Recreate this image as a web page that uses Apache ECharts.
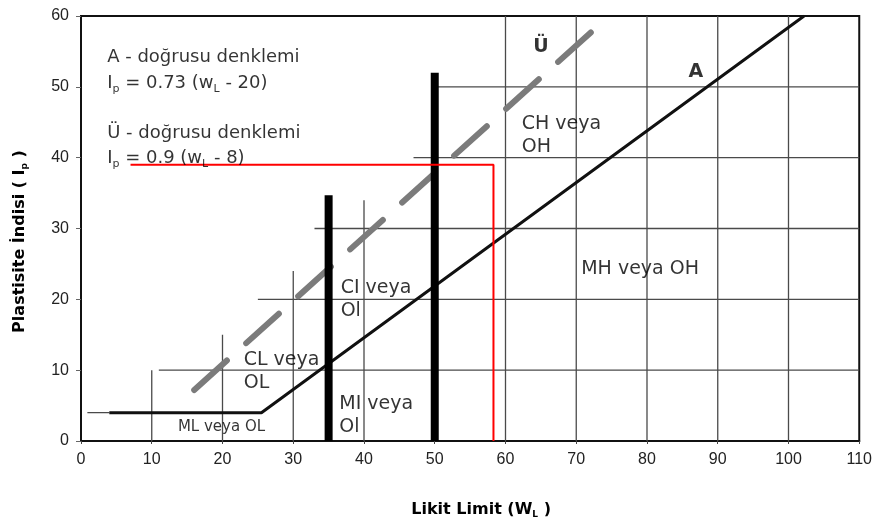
<!DOCTYPE html>
<html>
<head>
<meta charset="utf-8">
<script src="https://cdn.jsdelivr.net/npm/echarts@6/dist/echarts.min.js"></script>
<style>
  html, body { margin: 0; background: #fff; }
  #chart { width: 875px; height: 524px; }
</style>
</head>
<body>
<div id="chart"></div>
<script>
// axis ticks
const xTicks = [0, 10, 20, 30, 40, 50, 60, 70, 80, 90, 100, 110];
const yTicks = [0, 10, 20, 30, 40, 50, 60];

// partial grid lines (segments)
const vGridX = [10, 20, 30, 40, 60, 70, 80, 90, 100];
const vGridTop = [10, 15, 24, 34, 60, 60, 60, 60, 60];
const hGridY = [4, 10, 20, 30, 40, 50];
const hGridFrom = [0.9, 11, 25, 33, 47, 50];
const hGridTo = [4, 110, 110, 110, 110, 110];

// A-line: Ip = 0.73 (wL - 20), with Ip = 4 plateau
const aLineX = [4, 25.5, 102.2];
const aLineY = [4, 4, 60];

// U-line: Ip = 0.9 (wL - 8)
const uLineX = [16, 73.3];
const uLineY = [7.2, 58.8];

// thick boundaries at wL = 35 and 50
const barX = [35, 50];
const barTop = [34.7, 52];

// red read-off line
const redX = [7, 58.3, 58.3];
const redY = [39, 39, 0];

const zip = (xs, ys) => xs.map((x, i) => [x, ys[i]]);

const chart = echarts.init(document.getElementById("chart"));

const txt = "DejaVu Sans";
const ink = "#000";
const rich = {
  n: { fontFamily: txt, fontSize: 18, color: ink, lineHeight: 22 },
  s: { fontFamily: txt, fontSize: 11, color: ink, lineHeight: 12, verticalAlign: "bottom" }
};
const nameRich = {
  b: { fontFamily: txt, fontWeight: "bold", fontSize: 16, color: ink, lineHeight: 18 },
  bs: { fontFamily: txt, fontWeight: "bold", fontSize: 9, color: ink, lineHeight: 10, verticalAlign: "bottom" }
};

function note(x, y, formatter, extra) {
  return {
    value: [x, y],
    label: Object.assign({
      show: true,
      position: [0, 0],
      align: "left",
      verticalAlign: "middle",
      formatter: formatter,
      fontFamily: txt,
      fontSize: 19,
      lineHeight: 23,
      color: ink,
      rich: rich
    }, extra || {})
  };
}

const gridSeries = [];
vGridX.forEach((x, i) => {
  gridSeries.push({
    type: "line", symbol: "none", silent: true, z: 1,
    lineStyle: { color: "#4a4a4a", width: 1.3 },
    data: [[x, 0], [x, vGridTop[i]]]
  });
});
hGridY.forEach((y, i) => {
  gridSeries.push({
    type: "line", symbol: "none", silent: true, z: 1,
    lineStyle: { color: "#4a4a4a", width: 1.3 },
    data: [[hGridFrom[i], y], [hGridTo[i], y]]
  });
});

const option = {
  animation: false,
  backgroundColor: "#fff",
  grid: {
    left: 81, right: 14, top: 16, bottom: 81,
    show: true, borderColor: "#111", borderWidth: 2
  },
  xAxis: {
    type: "value",
    min: xTicks[0],
    max: xTicks[xTicks.length - 1],
    interval: xTicks[1] - xTicks[0],
    axisLine: { show: true, onZero: false, lineStyle: { color: "#111", width: 2 } },
    axisTick: { show: true, length: 3, lineStyle: { color: "#444" } },
    splitLine: { show: false },
    axisLabel: { color: "#222", fontSize: 16, fontFamily: "Liberation Sans", margin: 11 },
    name: "{b|Likit Limit (W}{bs|L}{b| )}",
    nameLocation: "middle",
    nameGap: 60,
    nameTextStyle: { padding: [0, 0, 0, 22], rich: nameRich }
  },
  yAxis: {
    type: "value",
    min: yTicks[0],
    max: yTicks[yTicks.length - 1],
    interval: yTicks[1] - yTicks[0],
    axisLine: { show: true, onZero: false, lineStyle: { color: "#111", width: 2 } },
    axisTick: { show: true, length: 5, lineStyle: { color: "#666" } },
    splitLine: { show: false },
    axisLabel: { color: "#222", fontSize: 16, fontFamily: "Liberation Sans", margin: 12 },
    name: "{b|Plastisite İndisi ( I}{bs|p}{b| )}",
    nameLocation: "middle",
    nameGap: 52,
    nameTextStyle: { padding: [0, 26, 0, 0], rich: nameRich }
  },
  series: gridSeries.concat([
    {
      type: "line", symbol: "none", z: 3,
      lineStyle: { color: "#111", width: 3 },
      data: zip(aLineX, aLineY)
    },
    {
      type: "line", symbol: "none", z: 4,
      lineStyle: { color: "#7b7b7b", width: 6, type: [44, 26], cap: "round" },
      data: zip(uLineX, uLineY)
    }
  ], barX.map((x, i) => ({
    type: "line", symbol: "none", z: 5,
    lineStyle: { color: "#000", width: 8, cap: "butt" },
    data: [[x, 0], [x, barTop[i]]]
  })), [
    {
      type: "line", symbol: "none", z: 6,
      lineStyle: { color: "#ff0000", width: 2 },
      data: zip(redX, redY)
    },
    {
      type: "scatter", symbolSize: 0, z: 7, silent: true,
      data: [
        note(3.7, 54.2, "{n|A - doğrusu denklemi}"),
        note(3.7, 50.5, "{n|I}{s|p}{n| = 0.73 (w}{s|L}{n| - 20)}"),
        note(3.7, 43.5, "{n|Ü - doğrusu denklemi}"),
        note(3.7, 39.9, "{n|I}{s|p}{n| = 0.9 (w}{s|L}{n| - 8)}"),
        note(62.3, 46.3, "CH veya\nOH", { verticalAlign: "top" }),
        note(70.7, 24.3, "MH veya OH"),
        note(36.7, 23.2, "CI veya\nOl", { verticalAlign: "top" }),
        note(23.0, 13.1, "CL veya\nOL", { verticalAlign: "top" }),
        note(36.5, 6.9, "MI veya\nOl", { verticalAlign: "top" }),
        note(13.7, 1.9, "ML veya OL", { fontSize: 15 }),
        note(65.0, 55.6, "Ü", { align: "center", fontWeight: "bold" }),
        note(86.9, 52.1, "A", { align: "center", fontWeight: "bold" })
      ]
    }
  ])
};

chart.setOption(option);
</script>
</body>
</html>
